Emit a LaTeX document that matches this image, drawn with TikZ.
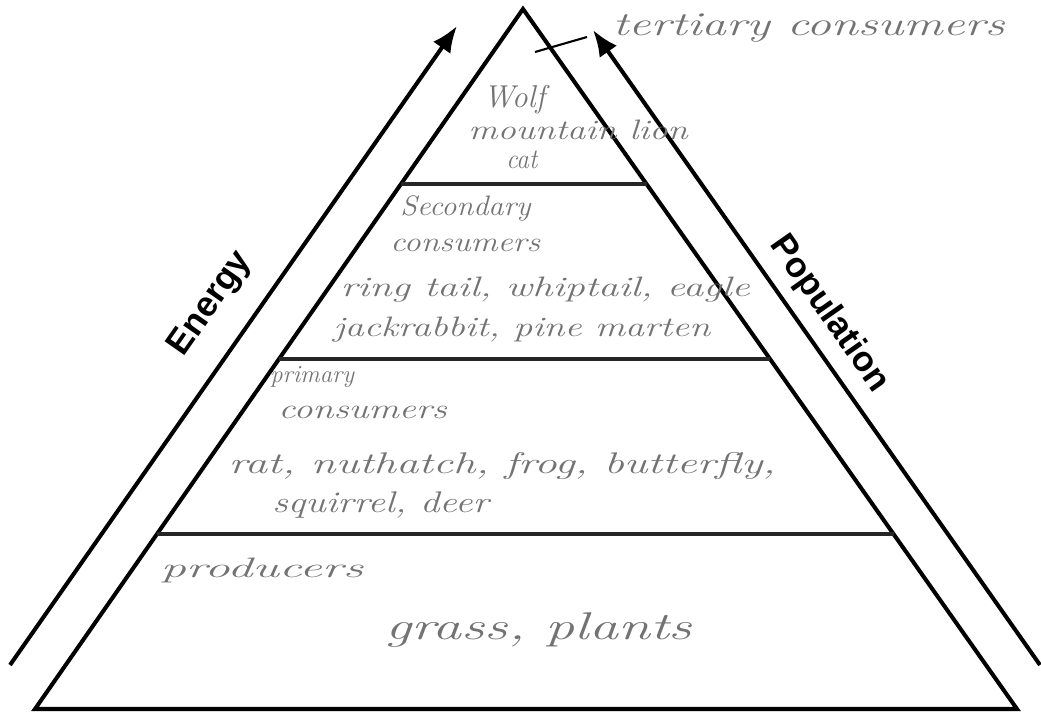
\documentclass[tikz,border=0pt]{standalone}
\usepackage{fontspec}
\usepackage{tikz}
\usetikzlibrary{arrows.meta,calc,positioning}
\newfontfamily\labelfont{Liberation Sans}
\definecolor{pencil}{gray}{0.45}
\tikzset{
  side/.style={line width=2.3pt, line join=miter},
  level/.style={line width=2.3pt, draw=black!85},
  rise/.style={line width=2.3pt, -{Latex[length=15pt,width=12pt]}},
  axislabel/.style={font=\labelfont\bfseries\fontsize{20}{20}\selectfont, inner sep=0},
  hand/.style={font=\itshape\fontsize{16}{16}\selectfont, text=pencil, inner sep=0, anchor=west}
}

\begin{document}
\begin{tikzpicture}[x=0.02cm,y=-0.02cm]
\useasboundingbox (0,0) rectangle (1041,713);

\coordinate (top) at (523,9);
\coordinate (bl) at (35,709);
\coordinate (br) at (1017,709);

\draw[side] (bl) -- (top) -- (br) -- cycle;
\foreach \t in {0.25,0.5,0.75}
  \draw[level] ($(top)!\t!(bl)$) -- ($(top)!\t!(br)$);

% the two arrows beside the pyramid
\coordinate (e0) at (10,665);
\coordinate (e1) at (457,26);
\coordinate (p0) at (1040,665);
\coordinate (p1) at (593,30);
\draw[rise] (e0) -- (e1);
\draw[rise] (p0) -- (p1);

\node[axislabel, rotate=55] (energy) at (211,304) {Energy};
\node[axislabel, rotate=-55] (population) at (829,314) {Population};

% handwritten notes
\node[hand, font=\itshape\fontsize{19}{19}\selectfont, xscale=1.47] (tert) at (612,28) {tertiary consumers};
\coordinate (ptr0) at (535,52);
\coordinate (ptr1) at (587,37);
\draw[line width=1.2pt] (ptr0) -- (ptr1);

\node[hand, font=\itshape\fontsize{18}{18}\selectfont] (wolf) at (483,100) {Wolf};
\node[hand, xscale=1.3] (lion) at (468,130) {mountain lion};
\node[hand, xscale=0.9] (cat) at (506,160) {cat};

\node[hand, xscale=1.08] (sec) at (400,208) {Secondary};
\node[hand, xscale=1.2] (seccons) at (390,245) {consumers};
\node[hand, xscale=1.44] (ring) at (340,290) {ring tail, whiptail, eagle};
\node[hand, xscale=1.35] (jack) at (333,330) {jackrabbit, pine marten};

\node[hand, font=\itshape\fontsize{14}{14}\selectfont] (prim) at (270,377) {primary};
\node[hand, xscale=1.35] (primcons) at (278,412) {consumers};
\node[hand, font=\itshape\fontsize{17}{17}\selectfont, xscale=1.5] (rat) at (228,466) {rat, nuthatch, frog, butterfly,};
\node[hand, font=\itshape\fontsize{17}{17}\selectfont, xscale=1.3] (squir) at (272,505) {squirrel, deer};

\node[hand, xscale=1.8] (prod) at (160,570) {producers};
\node[hand, font=\itshape\fontsize{22}{22}\selectfont, xscale=1.5] (grass) at (385,630) {grass, plants};

\end{tikzpicture}
\end{document}
